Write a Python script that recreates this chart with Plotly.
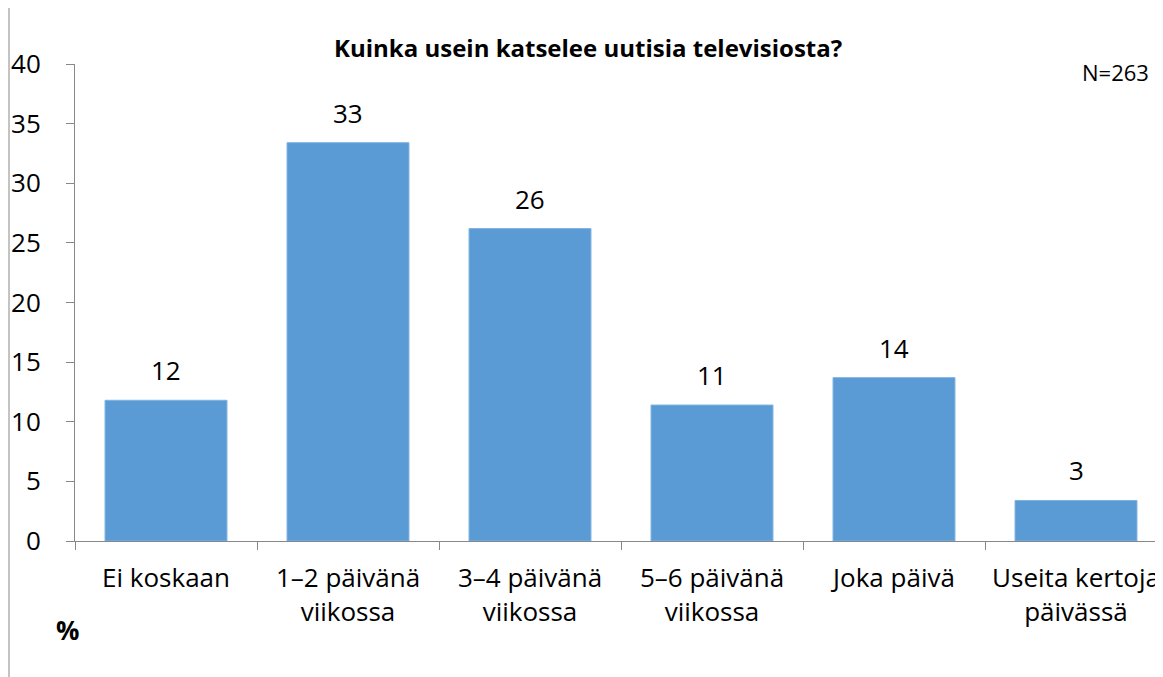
import plotly.graph_objects as go

categories = ["Ei koskaan", "1–2 päivänä<br>viikossa", "3–4 päivänä<br>viikossa",
              "5–6 päivänä<br>viikossa", "Joka päivä", "Useita kertoja<br>päivässä"]
values = [11.8, 33.4, 26.2, 11.4, 13.7, 3.4]
labels = ["12", "33", "26", "11", "14", "3"]
y_ticks = [0, 5, 10, 15, 20, 25, 30, 35, 40]

FONT = "Open Sans"
# page body has an 8px margin, so the figure is sized/offset accordingly
W, H = 1155, 669
L, T, B = 67, 56, 136

fig = go.Figure()
fig.add_trace(go.Bar(
    x=categories, y=values,
    marker=dict(color="#5B9BD5", line=dict(color="#7FB2E0", width=1)),
    width=0.67,
    hoverinfo="skip",
))

for c, v, lab in zip(categories, values, labels):
    fig.add_annotation(x=c, y=v, text=lab, showarrow=False, yanchor="middle",
                       yshift=30, font=dict(family=FONT, size=26, color="#000"))

fig.add_annotation(xref="paper", yref="paper", x=(588 - 8 - L) / (W - L), y=1,
                   yshift=17, yanchor="middle", xanchor="center",
                   text="<b>Kuinka usein katselee uutisia televisiosta?</b>",
                   showarrow=False, font=dict(family=FONT, size=24, color="#000"))
fig.add_annotation(xref="paper", yref="paper", x=1, xshift=-12, y=1, yshift=-8,
                   xanchor="right", yanchor="middle", text="N=263",
                   showarrow=False, font=dict(family=FONT, size=22, color="#000"))
fig.add_annotation(xref="paper", yref="paper", x=0, xshift=-8, y=0, yshift=-89,
                   xanchor="center", yanchor="middle", text="<b>%</b>",
                   showarrow=False, font=dict(family=FONT, size=26, color="#000"))

# chart frame line on the left
fx = -(L - 1) / (W - L)
fig.add_shape(type="line", xref="paper", yref="paper",
              x0=fx, x1=fx, y0=-2, y1=2,
              line=dict(color="#888888", width=1))

fig.update_layout(
    width=W, height=H,
    margin=dict(l=L, r=0, t=T, b=B, pad=0),
    paper_bgcolor="white", plot_bgcolor="white",
    showlegend=False,
    font=dict(family=FONT, size=26, color="#000"),
    xaxis=dict(
        range=[-0.5, 5.478],
        showline=True, linecolor="#888888", linewidth=1,
        ticks="outside", tickson="boundaries", ticklen=8, tickcolor="#888888",
        ticklabelstandoff=14,
        tickfont=dict(family=FONT, size=26, color="#000"),
        showgrid=False, zeroline=False,
    ),
    yaxis=dict(
        range=[0, 40], tickvals=y_ticks,
        showline=True, linecolor="#888888", linewidth=1,
        ticks="outside", ticklen=8, tickcolor="#888888",
        ticklabelstandoff=20,
        tickfont=dict(family=FONT, size=26, color="#000"),
        showgrid=False, zeroline=False,
    ),
)

fig.write_html("out.html")
